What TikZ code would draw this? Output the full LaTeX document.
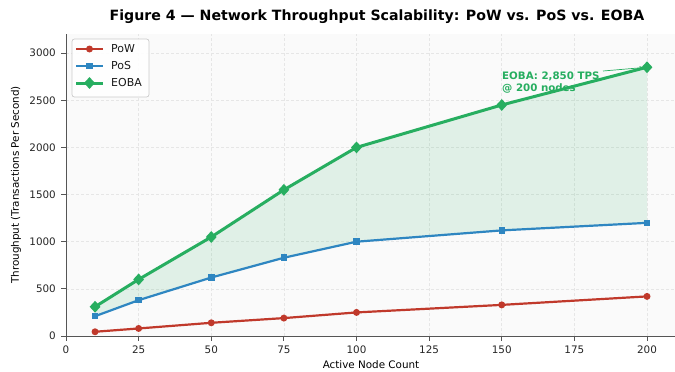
\documentclass[tikz,border=0pt]{standalone}
\usepackage{fontspec}
\setmainfont{DejaVu Sans}
\usetikzlibrary{arrows.meta,calc,shapes.geometric}
\definecolor{powc}{HTML}{C0392B}
\definecolor{posc}{HTML}{2E86C1}
\definecolor{eobac}{HTML}{27AE60}
\definecolor{spinec}{HTML}{555555}
\definecolor{gridc}{HTML}{E6E6E6}
\definecolor{axbg}{HTML}{FAFAFA}
\tikzset{
  powline/.style={draw=powc, line width=2.2bp, line join=round},
  posline/.style={draw=posc, line width=2.2bp, line join=round},
  eobaline/.style={draw=eobac, line width=3bp, line join=round},
  powmark/.style={circle, fill=powc, inner sep=0pt, minimum size=7bp},
  posmark/.style={rectangle, fill=posc, inner sep=0pt, minimum size=6.5bp},
  eobamark/.style={shape=diamond, fill=eobac, inner sep=0pt, minimum width=11bp, minimum height=12bp},
  ticklab/.style={font=\fontsize{10.4}{12}\selectfont, text=black!85, inner sep=0pt},
  leglab/.style={font=\fontsize{11}{13}\selectfont, text=black!90, inner sep=0pt},
  gridline/.style={draw=gridc, line width=0.6bp, dash pattern=on 3bp off 2bp},
  spine/.style={draw=spinec, line width=1bp},
}
\begin{document}
\begin{tikzpicture}[x=1bp,y=1bp]
\useasboundingbox (0,0) rectangle (675,371);
\fill[white] (0,0) rectangle (675,371);
\node[font=\bfseries\fontsize{14.2}{16}\selectfont, inner sep=0pt] (title) at (377,354) {Figure 4 — Network Throughput Scalability: PoW vs. PoS vs. EOBA};
\begin{scope}[shift={(66,35)}, x=2.905bp, y=0.0943bp]
  \fill[axbg] (0,0) rectangle (210,3200);
  \foreach \xv in {25,50,...,200} \draw[gridline] (\xv,0) -- (\xv,3200);
  \foreach \yv in {500,1000,...,3000} \draw[gridline] (0,\yv) -- (210,\yv);
  % data coordinates
  \coordinate (w1) at (10,45);  \coordinate (w2) at (25,80);  \coordinate (w3) at (50,140);
  \coordinate (w4) at (75,190); \coordinate (w5) at (100,250); \coordinate (w6) at (150,330);
  \coordinate (w7) at (200,420);
  \coordinate (s1) at (10,210);  \coordinate (s2) at (25,380);  \coordinate (s3) at (50,620);
  \coordinate (s4) at (75,830);  \coordinate (s5) at (100,1000); \coordinate (s6) at (150,1120);
  \coordinate (s7) at (200,1200);
  \coordinate (e1) at (10,310);  \coordinate (e2) at (25,600);  \coordinate (e3) at (50,1050);
  \coordinate (e4) at (75,1550); \coordinate (e5) at (100,2000); \coordinate (e6) at (150,2450);
  \coordinate (e7) at (200,2850);
  \fill[eobac, fill opacity=0.12] (e1) -- (e2) -- (e3) -- (e4) -- (e5) -- (e6) -- (e7)
     -- (s7) -- (s6) -- (s5) -- (s4) -- (s3) -- (s2) -- (s1) -- cycle;
  \draw[powline] (w1) -- (w2) -- (w3) -- (w4) -- (w5) -- (w6) -- (w7);
  \draw[posline] (s1) -- (s2) -- (s3) -- (s4) -- (s5) -- (s6) -- (s7);
  \draw[eobaline] (e1) -- (e2) -- (e3) -- (e4) -- (e5) -- (e6) -- (e7);
  \foreach \i in {1,...,7} {
    \node[powmark] (pw\i) at (w\i) {};
    \node[posmark] (ps\i) at (s\i) {};
    \node[eobamark] (eb\i) at (e\i) {};
  }
  % spines and ticks
  \draw[spine] (0,3200) -- (0,0) -- (210,0);
  \foreach \xv in {0,25,...,200} {
    \draw[spinec, line width=0.8bp] (\xv,0) -- ++(0,-5bp);
    \node[ticklab, anchor=north] at ([yshift=-9.5bp]\xv,0) {\xv};
  }
  \foreach \yv in {0,500,...,3000} {
    \draw[spinec, line width=0.8bp] (0,\yv) -- ++(-5bp,0);
    \node[ticklab, anchor=east] at ([xshift=-10bp]0,\yv) {\yv};
  }
\end{scope}
% annotation
\node[font=\bfseries\fontsize{10.3}{11.5}\selectfont, text=eobac, align=left, anchor=base west, inner sep=0pt] (ann) at (502,280) {EOBA: 2,850 TPS\\@ 200 nodes};
\coordinate (annstart) at (603,300);
\draw[eobac, line width=0.7bp, -{Stealth[length=4.5bp,width=3.5bp]}, shorten >=3bp] (annstart) -- (eb7.center);
\node[font=\fontsize{10.4}{12}\selectfont, inner sep=0pt] (xlab) at (371,6) {Active Node Count};
\node[font=\fontsize{10.4}{12}\selectfont, inner sep=0pt, rotate=90] (ylab) at (16,186) {Throughput (Transactions Per Second)};
% legend
\draw[draw=black!20, fill=white, fill opacity=0.9, rounded corners=2.5bp, line width=0.7bp] (72,274) rectangle (149,332);
\coordinate (lg1a) at (76,322); \coordinate (lg1b) at (103,322);
\coordinate (lg2a) at (76,305); \coordinate (lg2b) at (103,305);
\coordinate (lg3a) at (76,288); \coordinate (lg3b) at (103,288);
\draw[powline] (lg1a) -- (lg1b); \node[powmark] (lgm1) at ($(lg1a)!0.5!(lg1b)$) {};
\draw[posline] (lg2a) -- (lg2b); \node[posmark] (lgm2) at ($(lg2a)!0.5!(lg2b)$) {};
\draw[eobaline] (lg3a) -- (lg3b); \node[eobamark] (lgm3) at ($(lg3a)!0.5!(lg3b)$) {};
\node[leglab, anchor=west] (lt1) at (111,322) {PoW};
\node[leglab, anchor=west] (lt2) at (111,305) {PoS};
\node[leglab, anchor=west] (lt3) at (111,288) {EOBA};
\end{tikzpicture}
\end{document}
